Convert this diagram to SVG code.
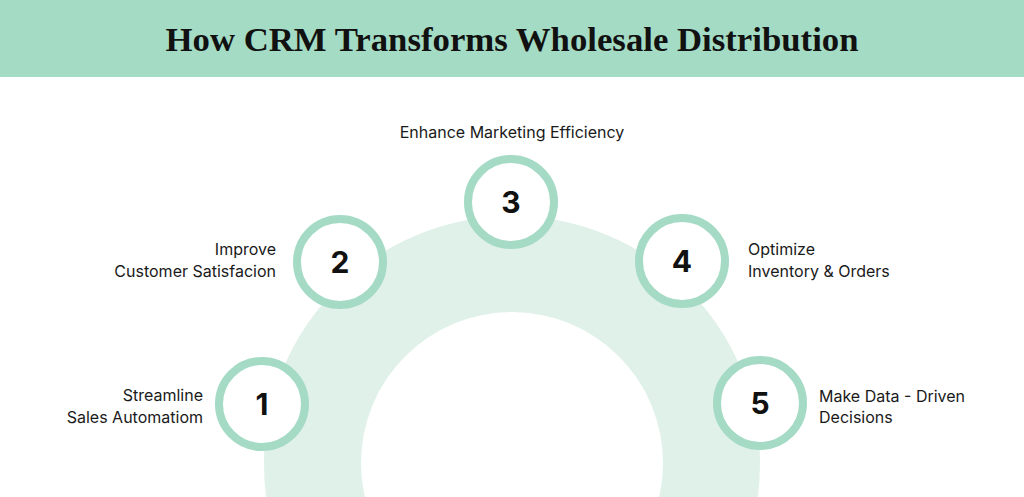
<svg xmlns="http://www.w3.org/2000/svg" width="1024" height="497" viewBox="0 0 1024 497">
<style>
.ring{fill:#ffffff;stroke:#a5dbc5;stroke-width:8}
.num{font-family:Inter,"Liberation Sans",sans-serif;font-weight:700;font-size:30px;fill:#111;text-anchor:middle}
.lbl{font-family:Inter,"Liberation Sans",sans-serif;font-size:16px;fill:#1a1a1a}
.title{font-family:"Liberation Serif",serif;font-weight:700;font-size:34px;fill:#111;text-anchor:middle}
</style>
<rect x="0" y="0" width="1024" height="497" fill="#ffffff"/>
<rect x="0" y="0" width="1024" height="77" fill="#a4dbc4"/>
<text class="title" x="512" y="51" textLength="693" lengthAdjust="spacingAndGlyphs">How CRM Transforms Wholesale Distribution</text>
<g id="arc">
<circle cx="512" cy="464" r="248" fill="#dff1e8"/>
<circle cx="512" cy="463" r="151" fill="#ffffff"/>
</g>
<g id="connectors"></g>
<g id="node1">
<circle class="ring" cx="262" cy="404" r="43"/>
<text class="num" x="262" y="415">1</text>
<text class="lbl" x="203" y="401" text-anchor="end">Streamline</text>
<text class="lbl" x="203" y="423" text-anchor="end">Sales Automatiom</text>
</g>
<g id="node2">
<circle class="ring" cx="340" cy="262" r="43"/>
<text class="num" x="340" y="273">2</text>
<text class="lbl" x="276" y="255" text-anchor="end">Improve</text>
<text class="lbl" x="276" y="277" text-anchor="end">Customer Satisfacion</text>
</g>
<g id="node3">
<circle class="ring" cx="511" cy="202" r="43"/>
<text class="num" x="511" y="213">3</text>
<text class="lbl" x="512" y="138" text-anchor="middle">Enhance Marketing Efficiency</text>
</g>
<g id="node4">
<circle class="ring" cx="682" cy="261" r="43"/>
<text class="num" x="682" y="272">4</text>
<text class="lbl" x="748" y="255">Optimize</text>
<text class="lbl" x="748" y="277">Inventory &amp; Orders</text>
</g>
<g id="node5">
<circle class="ring" cx="760" cy="403" r="43"/>
<text class="num" x="760" y="414">5</text>
<text class="lbl" x="819" y="402">Make Data - Driven</text>
<text class="lbl" x="819" y="423">Decisions</text>
</g>
</svg>
